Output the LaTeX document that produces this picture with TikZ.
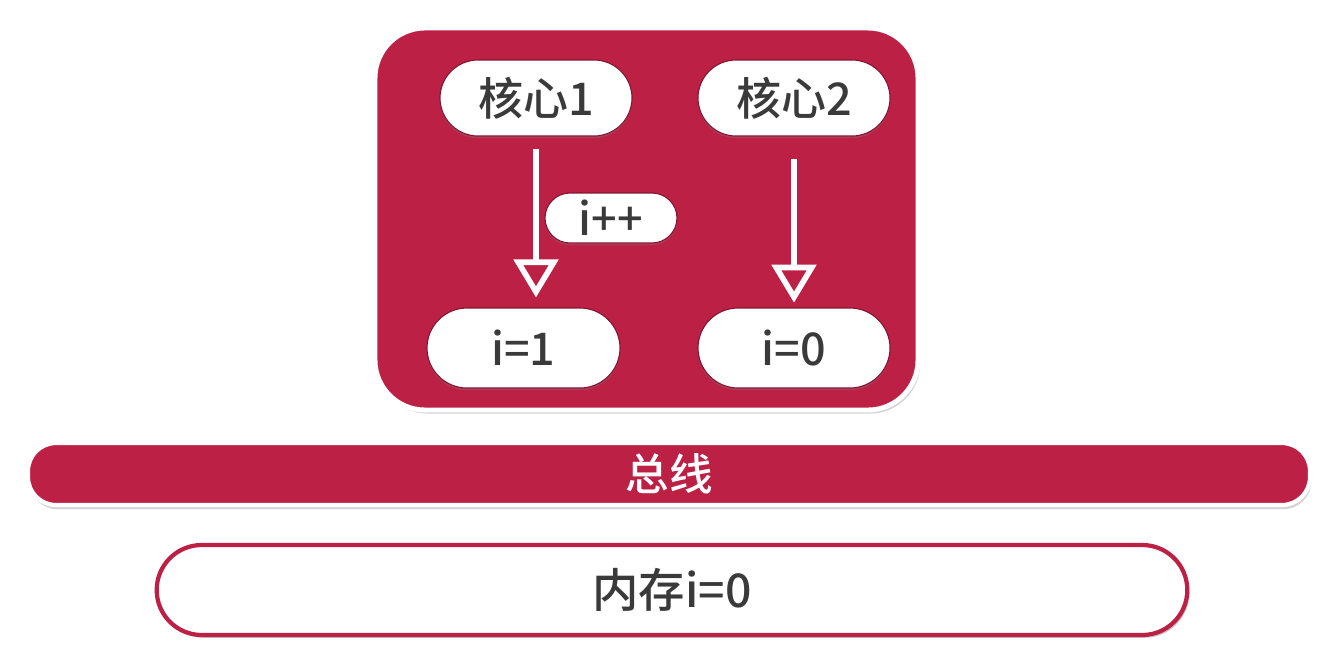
\documentclass[tikz,border=0pt]{standalone}
\usepackage{fontspec}
\setmainfont{Noto Sans CJK SC}[UprightFont=* Medium]
\usetikzlibrary{shapes.misc,arrows.meta,shadows}
\definecolor{crim}{HTML}{BC2045}
\definecolor{txt}{HTML}{3A3A3A}
\begin{document}
\begin{tikzpicture}[x=0.025cm,y=-0.025cm,
  pill/.style={rounded rectangle, fill=white, draw=crim!70!black, line width=0.8pt,
    text=txt, font=\fontsize{32}{32}\selectfont, inner sep=0pt,
    drop shadow={shadow xshift=0pt, shadow yshift=-1.5pt, opacity=0.35}},
  arr/.style={draw=white, line width=4pt,
    -{Triangle[open, length=0.95cm, width=1.1cm]}},
  cpubox/.style={fill=crim, draw=white, line width=3.5pt, rounded corners=1.25cm,
    drop shadow={shadow xshift=1.5pt, shadow yshift=-2.5pt, opacity=0.35}},
  busbar/.style={fill=crim, draw=white, line width=3pt, rounded corners=0.7cm,
    text=white, font=\fontsize{31}{31}\selectfont,
    drop shadow={shadow xshift=1pt, shadow yshift=-3pt, opacity=0.35}},
  membar/.style={rounded rectangle, fill=white, draw=crim, line width=3pt,
    text=txt, font=\fontsize{33}{33}\selectfont,
    drop shadow={shadow xshift=1.5pt, shadow yshift=-2pt, opacity=0.45}}]
\useasboundingbox (0,0) rectangle (1342,654);
\node[cpubox, minimum width=543*0.025cm, minimum height=382*0.025cm] (cpu) at (646.5,219) {};
\node[pill, minimum width=192*0.025cm, minimum height=76*0.025cm] (k1) at (536,98) {核心1};
\node[pill, minimum width=192*0.025cm, minimum height=76*0.025cm] (k2) at (794,98) {核心2};
\node[pill, minimum width=132*0.025cm, minimum height=50*0.025cm] (inc) at (611,218) {i++};
\node[pill, minimum width=193*0.025cm, minimum height=80*0.025cm] (i1) at (523.5,348) {i=1};
\node[pill, minimum width=192*0.025cm, minimum height=80*0.025cm] (i0) at (794,348) {i=0};
\draw[arr, shorten <=0.3cm, shorten >=0.25cm] (k1.south) -- (k1.south |- i1.north);
\draw[arr, shorten <=0.55cm, shorten >=0.12cm] (k2.south) -- (k2.south |- i0.north);
\node[busbar, minimum width=1282*0.025cm, minimum height=62*0.025cm] (bus) at (669,474) {总线};
\node[membar, minimum width=1040*0.025cm, minimum height=90*0.025cm] (mem) at (672,590) {内存i=0};
\end{tikzpicture}
\end{document}
